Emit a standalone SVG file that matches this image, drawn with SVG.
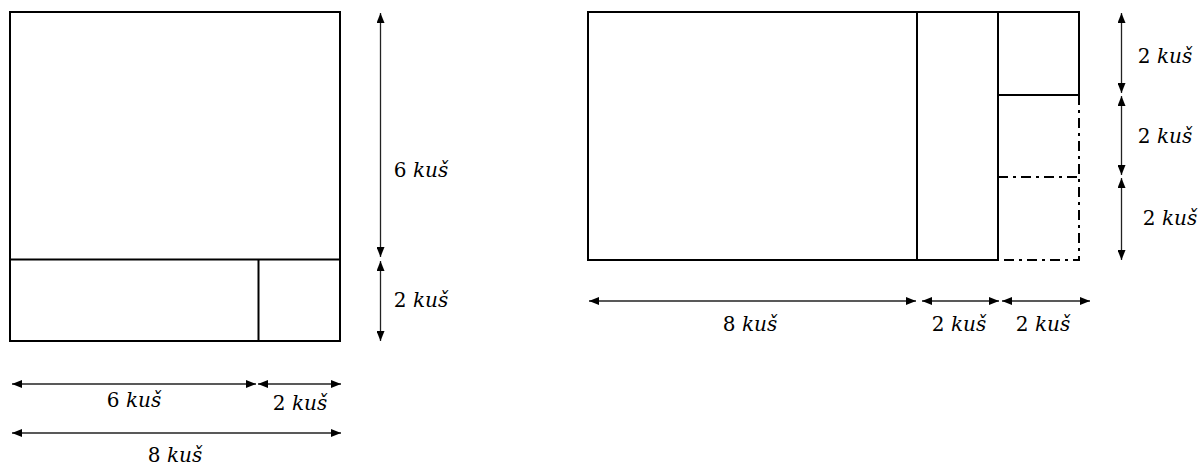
<svg xmlns="http://www.w3.org/2000/svg" width="1200" height="465" viewBox="0 0 1200 465">
<style>
.box{fill:none;stroke:#000;stroke-width:2}
.dd{fill:none;stroke:#000;stroke-width:2;stroke-dasharray:10,5,3,5}
.dim{stroke:#222;stroke-width:1.3;fill:none;marker-start:url(#ah);marker-end:url(#ah)}
.i{font-style:italic}
</style>
<defs>
<marker id="ah" viewBox="0 0 10 8" refX="10" refY="4" markerWidth="10" markerHeight="8" markerUnits="userSpaceOnUse" orient="auto-start-reverse">
<path d="M0,0 L10,4 L0,8 Z" fill="#000"/>
</marker>
</defs>
<g id="left-figure">
<rect class="box" x="10" y="12" width="330" height="329"/>
<line class="box" x1="10" y1="259.5" x2="340" y2="259.5"/>
<line class="box" x1="258.5" y1="259.5" x2="258.5" y2="341"/>
</g>
<g id="right-figure">
<polyline class="box" points="998,260 588,260 588,12 1079,12 1079,95 998,95"/>
<line class="box" x1="917" y1="12" x2="917" y2="260"/>
<line class="box" x1="998" y1="12" x2="998" y2="260"/>
<polyline class="dd" points="1079,95 1079,260 998,260"/>
<line class="dd" x1="998" y1="177" x2="1079" y2="177"/>
</g>
<g id="connectors">
<line class="dim" x1="380.5" y1="13" x2="380.5" y2="257"/>
<line class="dim" x1="380.5" y1="261" x2="380.5" y2="341"/>
<line class="dim" x1="12" y1="384" x2="256" y2="384"/>
<line class="dim" x1="258" y1="384" x2="341" y2="384"/>
<line class="dim" x1="12" y1="433" x2="341" y2="433"/>
<line class="dim" x1="1121.5" y1="13" x2="1121.5" y2="93"/>
<line class="dim" x1="1121.5" y1="96" x2="1121.5" y2="175"/>
<line class="dim" x1="1121.5" y1="178" x2="1121.5" y2="260"/>
<line class="dim" x1="589" y1="301" x2="916" y2="301"/>
<line class="dim" x1="922" y1="301" x2="999" y2="301"/>
<line class="dim" x1="1002" y1="301" x2="1090" y2="301"/>
</g>
<g id="labels" font-family="DejaVu Serif, serif" font-size="20" text-anchor="middle" fill="#000">
<text x="421" y="177">6 <tspan class="i">kuš</tspan></text>
<text x="421" y="307">2 <tspan class="i">kuš</tspan></text>
<text x="134" y="407">6 <tspan class="i">kuš</tspan></text>
<text x="300" y="410">2 <tspan class="i">kuš</tspan></text>
<text x="175" y="462">8 <tspan class="i">kuš</tspan></text>
<text x="1165" y="63">2 <tspan class="i">kuš</tspan></text>
<text x="1165" y="143">2 <tspan class="i">kuš</tspan></text>
<text x="1170" y="225">2 <tspan class="i">kuš</tspan></text>
<text x="750" y="331">8 <tspan class="i">kuš</tspan></text>
<text x="959" y="331">2 <tspan class="i">kuš</tspan></text>
<text x="1043" y="331">2 <tspan class="i">kuš</tspan></text>
</g>
</svg>
